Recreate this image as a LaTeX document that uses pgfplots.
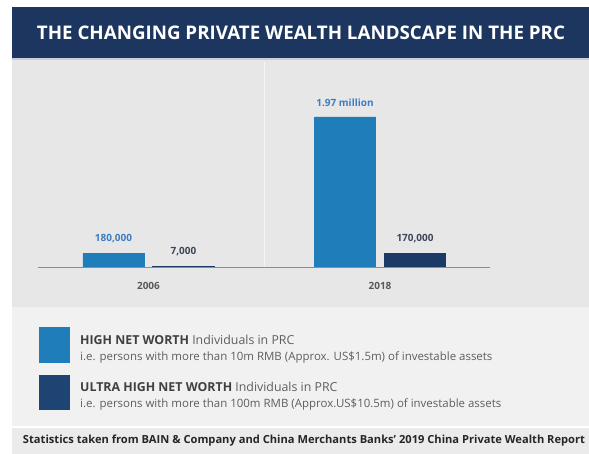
\documentclass[border=0pt]{standalone}
\usepackage{pgfplots}
\pgfplotsset{compat=1.18}
\usepackage{fontspec}
\setmainfont{Open Sans}
\definecolor{navy}{HTML}{1D3660}
\definecolor{sepline}{HTML}{C9CED8}
\definecolor{hnw}{HTML}{1F7DBA}
\definecolor{uhnw}{HTML}{1C3A66}
\definecolor{panel}{HTML}{E7E7E7}
\definecolor{legbg}{HTML}{F1F1F1}
\definecolor{foot}{HTML}{EBEBEB}
\definecolor{lblblue}{HTML}{3B7CC2}
\definecolor{lbldark}{HTML}{3A4658}
\definecolor{txtgrey}{HTML}{5E5E5E}

\begin{document}
\begin{tikzpicture}[x=1bp,y=1bp]
\path[use as bounding box] (0,0) rectangle (589,454);
\fill[white] (0,0) rectangle (589,454);
% banner
\fill[navy] (12,447) rectangle (589,396);
\fill[sepline] (12,396) rectangle (589,394);
\node[text=white, font=\bfseries\fontsize{16}{18}\selectfont] at (301,421)
  {\resizebox{528bp}{!}{THE CHANGING PRIVATE WEALTH LANDSCAPE IN THE PRC}};
% panels
\fill[panel] (12,394) rectangle (589,147);
\fill[legbg] (12,147) rectangle (589,28);
\fill[white] (12,28) rectangle (589,26);
\fill[foot] (12,26) rectangle (589,0);

\begin{axis}[
  at={(38bp,187bp)}, anchor=south west,
  scale only axis, width=452bp, height=205bp,
  xmin=-0.477, xmax=1.475, ymin=0, ymax=2.692,
  axis x line=bottom, axis y line=none,
  axis line style={draw=black!45, line width=0.9pt, -},
  xtick={0,1}, xticklabels={2006,2018},
  xticklabel style={font=\bfseries\fontsize{10}{11}\selectfont, text=black!65, yshift=-12bp},
  major tick length=0pt,
  ytick={0.645,1.29,1.935,2.58}, yticklabels={},
  ymajorgrids, grid style={white!60!panel, line width=1.2pt},
  extra x ticks={0.5}, extra x tick labels={},
  extra x tick style={grid=major},
  nodes near coords,
  point meta=explicit symbolic,
  every node near coord/.append style={font=\bfseries\fontsize{10}{11}\selectfont, anchor=south, yshift=7bp},
]
\addplot[ybar, bar width=61bp, bar shift=-35bp, fill=hnw, draw=hnw,
  every node near coord/.append style={text=lblblue, xshift=-35bp}]
  coordinates {(0,0.18) [180,000] (1,1.97) [1.97 million]};
\addplot[ybar, bar width=61bp, bar shift=35bp, fill=uhnw, draw=uhnw, line width=1.2pt,
  every node near coord/.append style={text=lbldark, xshift=35bp}]
  coordinates {(0,0.007) [7,000] (1,0.17) [170,000]};
\end{axis}

% legend
\fill[hnw] (39,127) rectangle (70,91);
\fill[uhnw!85!hnw] (39,79) rectangle (70,44);
\node[anchor=base west, inner sep=0pt, text=txtgrey, font=\fontsize{12.4}{14}\selectfont] at (80,109)
  {\textcolor{black!75}{\bfseries HIGH NET WORTH} Individuals in PRC};
\node[anchor=base west, inner sep=0pt, text=txtgrey, font=\fontsize{11.5}{13}\selectfont] at (80,93)
  {i.e. persons with more than 10m RMB (Approx. US\$1.5m) of investable assets};
\node[anchor=base west, inner sep=0pt, text=txtgrey, font=\fontsize{12.4}{14}\selectfont] at (80,62)
  {\textcolor{black!75}{\bfseries ULTRA HIGH NET WORTH} Individuals in PRC};
\node[anchor=base west, inner sep=0pt, text=txtgrey, font=\fontsize{11.5}{13}\selectfont] at (80,46)
  {i.e. persons with more than 100m RMB (Approx.US\$10.5m) of investable assets};
% footer
\node[text=black!85, font=\bfseries\fontsize{9}{10}\selectfont] at (304,13)
  {\resizebox{562bp}{!}{Statistics taken from BAIN \& Company and China Merchants Banks' 2019 China Private Wealth Report}};
\end{tikzpicture}
\end{document}
